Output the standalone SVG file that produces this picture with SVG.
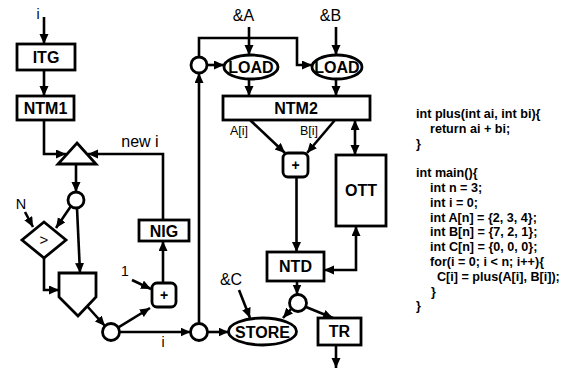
<svg xmlns="http://www.w3.org/2000/svg" width="570" height="369" viewBox="0 0 570 369">
<defs>
<marker id="ah" markerUnits="userSpaceOnUse" markerWidth="11" markerHeight="10" refX="10" refY="4.5" orient="auto-start-reverse" viewBox="0 0 11 10">
<path d="M0,0 L10,4.5 L0,9 z" fill="#000"/>
</marker>
<style>
.b{fill:#fff;stroke:#000;stroke-width:2.8}
.l{fill:none;stroke:#000;stroke-width:2.6;marker-end:url(#ah)}
.lb{fill:none;stroke:#000;stroke-width:2.6;marker-end:url(#ah);marker-start:url(#ah)}
.t{font-family:"Liberation Sans",Arial,sans-serif;font-weight:bold;font-size:16px;text-anchor:middle;fill:#000}
.r{font-family:"Liberation Sans",Arial,sans-serif;font-size:16px;text-anchor:middle;fill:#000}
.c{font-family:"Liberation Sans",Arial,sans-serif;font-weight:bold;font-size:12.6px;fill:#000}
</style>
</defs>
<rect width="570" height="369" fill="#fff"/>
<g id="connectors">
<line class="l" x1="44" y1="17" x2="44" y2="44"/>
<line class="l" x1="44" y1="70" x2="44" y2="96"/>
<path class="l" d="M44,120 V154 H66"/>
<path class="l" d="M163,220 V154 H88"/>
<line class="l" x1="76" y1="164" x2="76" y2="192"/>
<line class="l" x1="25" y1="212" x2="33" y2="227"/>
<line class="l" x1="71" y1="206" x2="56" y2="228"/>
<line class="l" x1="77" y1="208" x2="80" y2="273"/>
<path class="l" d="M44,258 V290 H59"/>
<line class="l" x1="87" y1="306" x2="105" y2="326"/>
<line class="l" x1="118" y1="327.6" x2="150" y2="308"/>
<line class="l" x1="132" y1="280" x2="151" y2="289"/>
<line class="l" x1="163" y1="283" x2="163" y2="241"/>
<line class="l" x1="119.5" y1="332" x2="190.5" y2="332"/>
<line class="l" x1="199" y1="323.5" x2="199" y2="73"/>
<line class="l" x1="207" y1="65" x2="224" y2="65"/>
<path class="l" d="M199,57 V38 H297 V65 H312"/>
<line class="l" x1="249" y1="27" x2="249" y2="55"/>
<line class="l" x1="336" y1="27" x2="336" y2="55"/>
<line class="l" x1="249" y1="79" x2="249" y2="96"/>
<line class="l" x1="336" y1="79" x2="336" y2="96"/>
<line class="l" x1="250" y1="120" x2="285" y2="153"/>
<line class="l" x1="335" y1="120" x2="307" y2="153"/>
<line class="lb" x1="355" y1="120" x2="355" y2="155"/>
<line class="l" x1="296.5" y1="177" x2="296.5" y2="252"/>
<path class="lb" d="M324,270 H356 V226"/>
<line class="l" x1="297" y1="281" x2="297" y2="294.5"/>
<line class="l" x1="291" y1="309" x2="283" y2="318"/>
<line class="l" x1="306" y1="307" x2="333" y2="318"/>
<line class="l" x1="239" y1="290" x2="250" y2="318"/>
<line class="l" x1="207.5" y1="332" x2="228.5" y2="332"/>
<line class="l" x1="336" y1="345" x2="336" y2="368"/>
</g>
<g id="labels">
<text class="r" x="38" y="19" style="font-size:14px">i</text>
<text class="r" x="140" y="147">new i</text>
<text class="r" x="21" y="209" style="font-size:14.5px">N</text>
<text class="r" x="125" y="276" style="font-size:14px">1</text>
<text class="r" x="163" y="347" style="font-size:14px">i</text>
<text class="r" x="243.5" y="21">&amp;A</text>
<text class="r" x="330.5" y="21">&amp;B</text>
<text class="r" x="239" y="135" style="font-size:12.5px">A[i]</text>
<text class="r" x="309" y="135" style="font-size:12.5px">B[i]</text>
<text class="r" x="231" y="285">&amp;C</text>
</g>
<g id="ITG"><rect class="b" x="17" y="44" width="58" height="26"/><text class="t" x="46" y="63">ITG</text></g>
<g id="NTM1"><rect class="b" x="17" y="96" width="57" height="24"/><text class="t" x="45.5" y="114">NTM1</text></g>
<g id="merge"><polygon class="b" points="77,143 96,164 58,164"/></g>
<g id="fork1"><circle class="b" cx="76" cy="200" r="8"/></g>
<g id="cmp"><polygon class="b" points="44,222 66,240 44,258 22,240"/><text class="r" x="44" y="245" style="font-size:15px">&gt;</text></g>
<g id="select"><polygon class="b" points="59,273 96,273 96,297 78,316 59,297"/></g>
<g id="fork2"><circle class="b" cx="111" cy="332" r="8.5"/></g>
<g id="add1"><rect class="b" x="152" y="283" width="24" height="24" rx="5"/><text class="t" x="164" y="300" style="font-size:14px">+</text></g>
<g id="NIG"><rect class="b" x="139" y="220" width="50" height="21"/><text class="t" x="164" y="237">NIG</text></g>
<g id="fork3"><circle class="b" cx="199" cy="332" r="8.5"/></g>
<g id="fork4"><circle class="b" cx="199" cy="65" r="8"/></g>
<g id="LOAD1"><ellipse class="b" cx="251" cy="67" rx="27" ry="12"/><text class="t" x="251" y="73">LOAD</text></g>
<g id="LOAD2"><ellipse class="b" cx="337" cy="67" rx="25" ry="12"/><text class="t" x="337" y="73">LOAD</text></g>
<g id="NTM2"><rect class="b" x="223" y="96" width="147" height="24"/><text class="t" x="296" y="114">NTM2</text></g>
<g id="add2"><rect class="b" x="283" y="153" width="25" height="24" rx="5"/><text class="t" x="295.5" y="170" style="font-size:14px">+</text></g>
<g id="OTT"><rect class="b" x="336" y="155" width="50" height="71"/><text class="t" x="361" y="196">OTT</text></g>
<g id="NTD"><rect class="b" x="267" y="252" width="57" height="29"/><text class="t" x="295.5" y="272">NTD</text></g>
<g id="fork5"><circle class="b" cx="298" cy="303" r="8.5"/></g>
<g id="STORE"><ellipse class="b" cx="262.5" cy="331.5" rx="34" ry="13.5"/><text class="t" x="262.5" y="337.5">STORE</text></g>
<g id="TR"><rect class="b" x="318" y="318" width="43" height="27"/><text class="t" x="339.5" y="337">TR</text></g>
<g id="code">
<text class="c" x="416" y="118">int plus(int ai, int bi){</text>
<text class="c" x="430" y="132.8">return ai + bi;</text>
<text class="c" x="416" y="147.6">}</text>
<text class="c" x="416" y="177.2">int main(){</text>
<text class="c" x="430" y="192">int n = 3;</text>
<text class="c" x="430" y="206.8">int i = 0;</text>
<text class="c" x="430" y="221.6">int A[n] = {2, 3, 4};</text>
<text class="c" x="430" y="236.4">int B[n] = {7, 2, 1};</text>
<text class="c" x="430" y="251.2">int C[n] = {0, 0, 0};</text>
<text class="c" x="430" y="266">for(i = 0; i &lt; n; i++){</text>
<text class="c" x="437" y="280.8">C[i] = plus(A[i], B[i]);</text>
<text class="c" x="431" y="295.6">}</text>
<text class="c" x="416" y="310.4">}</text>
</g>
</svg>
